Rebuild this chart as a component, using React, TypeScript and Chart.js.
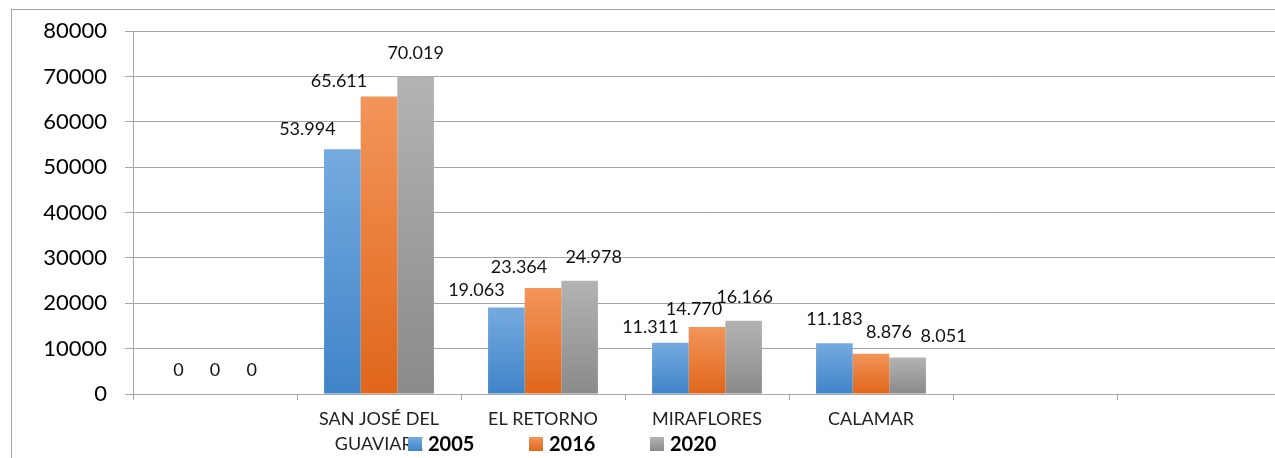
import React, { useEffect, useRef } from "react";
import { Chart, registerables } from "chart.js";

Chart.register(...registerables);

const categories: (string | string[])[] = ["", ["SAN JOSÉ DEL", "GUAVIARE"], "EL RETORNO", "MIRAFLORES", "CALAMAR", "", ""];
const seriesNames = ["2005", "2016", "2020"];
const values2005: (number | null)[] = [0, 53994, 19063, 11311, 11183, null, null];
const values2016: (number | null)[] = [0, 65611, 23364, 14770, 8876, null, null];
const values2020: (number | null)[] = [0, 70019, 24978, 16166, 8051, null, null];
const yTicks = [0, 10000, 20000, 30000, 40000, 50000, 60000, 70000, 80000];

// label nudges (px) relative to bar top centre, mimicking the reference's label placement
const labelNudge2005: [number, number][] = [[0, -24], [-35, -20], [-30, -17], [-20, -16], [0, -24], [0, 0], [0, 0]];
const labelNudge2016: [number, number][] = [[0, -24], [-40, -15], [-24, -21], [-13, -18], [18, -22], [0, 0], [0, 0]];
const labelNudge2020: [number, number][] = [[0, -24], [0, -23], [14, -24], [1, -23], [36, -21], [0, 0], [0, 0]];

const COLORS = [
  { light: "#75aadf", dark: "#3f84c8", solid: "#5b9bd5" },
  { light: "#f3955a", dark: "#e0661a", solid: "#ed7d31" },
  { light: "#b3b3b3", dark: "#8a8a8a", solid: "#a5a5a5" },
];

const W = 1300;
const H = 470;
const FONT = "Lato, 'Open Sans', sans-serif";

function gradientFor(idx: number) {
  return (c: any) => {
    const col = COLORS[idx];
    const chart = c.chart;
    const y = chart.scales && chart.scales.y;
    if (!y || c.type !== "data" || c.raw == null) return col.solid;
    const top = y.getPixelForValue(c.raw);
    const base = y.getPixelForValue(0);
    if (!isFinite(top) || !isFinite(base) || Math.abs(base - top) < 1) return col.solid;
    const g = chart.ctx.createLinearGradient(0, top, 0, base);
    g.addColorStop(0, col.light);
    g.addColorStop(1, col.dark);
    return g;
  };
}

const framePlugin = {
  id: "frame",
  beforeDraw(chart: any) {
    const ctx = chart.ctx;
    ctx.save();
    ctx.fillStyle = "#ffffff";
    ctx.fillRect(0, 0, chart.width, chart.height);
    ctx.strokeStyle = "#a6a6a6";
    ctx.lineWidth = 1;
    ctx.strokeRect(11.5, 9.5, chart.width + 50, chart.height + 50);
    ctx.restore();
  },
};

const nudges = [labelNudge2005, labelNudge2016, labelNudge2020];

const labelsPlugin = {
  id: "valueLabels",
  afterDatasetsDraw(chart: any) {
    const ctx = chart.ctx;
    ctx.save();
    ctx.font = `18px ${FONT}`;
    ctx.fillStyle = "#111";
    ctx.textAlign = "center";
    ctx.textBaseline = "middle";
    chart.data.datasets.forEach((ds: any, di: number) => {
      const meta = chart.getDatasetMeta(di);
      meta.data.forEach((el: any, i: number) => {
        const v = ds.data[i];
        if (v == null) return;
        const [dx, dy] = nudges[di][i];
        const txt = v.toLocaleString("de-DE");
        ctx.fillText(txt, el.x + dx, el.y + dy);
      });
    });
    ctx.restore();
  },
};

const legendPlugin = {
  id: "overlayLegend",
  afterDraw(chart: any) {
    const ctx = chart.ctx;
    const area = chart.chartArea;
    const start = area.left + 275;
    const step = 121;
    ctx.save();
    ctx.font = `bold 20px ${FONT}`;
    ctx.textAlign = "left";
    ctx.textBaseline = "middle";
    seriesNames.forEach((name, i) => {
      const x = start + i * step;
      const y = 437;
      const col = COLORS[i];
      const g = ctx.createLinearGradient(0, y, 0, y + 14);
      g.addColorStop(0, col.light);
      g.addColorStop(1, col.dark);
      ctx.fillStyle = g;
      ctx.fillRect(x, y, 14, 14);
      ctx.fillStyle = "#000";
      ctx.fillText(name, x + 20, y + 8);
    });
    ctx.restore();
  },
};

export default function App() {
  const ref = useRef<HTMLCanvasElement | null>(null);
  useEffect(() => {
    if (!ref.current) return;
    const chart = new Chart(ref.current, {
      type: "bar",
      data: {
        labels: categories,
        datasets: [
          { label: seriesNames[0], data: values2005, backgroundColor: gradientFor(0) },
          { label: seriesNames[1], data: values2016, backgroundColor: gradientFor(1) },
          { label: seriesNames[2], data: values2020, backgroundColor: gradientFor(2) },
        ],
      },
      options: {
        responsive: false,
        animation: false,
        devicePixelRatio: 1,
        layout: { padding: { left: 0, top: 27, right: W - 1281, bottom: 0 } },
        plugins: { legend: { display: false }, tooltip: { enabled: false } },
        datasets: { bar: { categoryPercentage: 0.67, barPercentage: 1.0 } },
        scales: {
          x: {
            offset: true,
            grid: {
              offset: true,
              drawOnChartArea: false,
              drawTicks: true,
              tickLength: 6,
              color: "#a6a6a6",
            },
            border: { display: true, color: "#a6a6a6" },
            ticks: {
              autoSkip: false,
              maxRotation: 0,
              padding: 7,
              color: "#222",
              font: { family: FONT, size: 18, lineHeight: 1.39 },
            },
            afterFit(scale: any) {
              scale.height = H - 394;
            },
          },
          y: {
            min: 0,
            max: 80000,
            afterBuildTicks(scale: any) {
              scale.ticks = yTicks.map((v) => ({ value: v }));
            },
            grid: {
              color: "#a6a6a6",
              drawTicks: true,
              tickLength: 8,
            },
            border: { display: true, color: "#a6a6a6" },
            ticks: {
              padding: 18,
              color: "#000",
              font: { family: FONT, size: 22 },
              callback: (v: any) => String(v),
            },
            afterFit(scale: any) {
              scale.width = 133;
            },
          },
        },
      },
      plugins: [framePlugin, labelsPlugin, legendPlugin],
    });
    return () => chart.destroy();
  }, []);

  return (
    <div
      style={{
        position: "fixed",
        left: 0,
        top: 0,
        width: 1275,
        height: 458,
        overflow: "hidden",
        background: "#fff",
      }}
    >
      <canvas ref={ref} width={W} height={H} style={{ display: "block", width: W, height: H }} />
    </div>
  );
}
